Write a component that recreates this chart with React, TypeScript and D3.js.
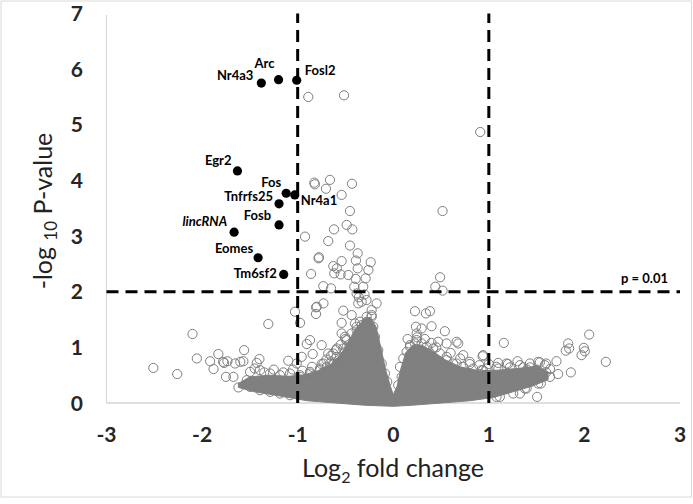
import React from "react";
import * as d3 from "d3";

// labelled genes (filled dots)
const genes = ["Nr4a3", "Arc", "Fosl2", "Egr2", "Fos", "Nr4a1", "Tnfrfs25", "Fosb", "lincRNA", "Eomes", "Tm6sf2"];
const geneLogFC = [-1.38, -1.2, -1.01, -1.63, -1.12, -1.03, -1.195, -1.195, -1.665, -1.414, -1.146];
const geneLogP = [5.75, 5.81, 5.8, 4.17, 3.77, 3.74, 3.58, 3.2, 3.07, 2.61, 2.31];

// scattered genes above the cut-off
const upperPoints = [
  [-0.889, 5.5], [-0.515, 5.53], [0.91, 4.87], [0.516, 3.45],
  [-0.826, 3.96], [-0.82, 3.93], [-0.662, 4.01], [-0.432, 3.94], [-0.704, 3.85], [-0.54, 3.74],
  [-0.453, 3.45], [-0.62, 3.12], [-0.487, 3.2], [-0.428, 3.12], [-0.923, 2.99], [-0.68, 2.91],
  [-0.453, 2.83], [-0.372, 2.69], [-0.777, 2.62], [-0.782, 2.6], [-0.54, 2.55], [-0.39, 2.56],
  [-0.236, 2.53], [-0.627, 2.46], [-0.59, 2.42], [-0.372, 2.42], [-0.26, 2.39], [-0.86, 2.32],
  [-0.617, 2.33], [-0.55, 2.31], [-0.47, 2.3], [-0.393, 2.23], [-0.289, 2.24], [-0.732, 2.1],
  [-0.651, 2.06], [-0.408, 2.09], [-0.314, 2.09], [-0.383, 1.97], [-0.36, 1.9], [-0.3, 1.95],
  [-0.28, 1.85], [-0.33, 1.82],
  [0.49, 2.26], [0.44, 2.09], [0.516, 2.02],
];

// scattered genes below the cut-off, left of zero
const leftPoints = [
  [-1.028, 1.64], [-0.808, 1.72], [-0.73, 1.79], [-0.808, 1.6], [-0.975, 1.44], [-0.523, 1.66],
  [-0.366, 1.79], [-0.174, 1.79], [-0.226, 1.67], [-0.435, 1.58], [-0.54, 1.44], [-0.54, 1.25],
  [-0.871, 1.13], [-0.905, 1.06], [-0.749, 1.04], [-0.843, 0.88], [-1.01, 0.71], [-0.73, 0.71],
  [-0.627, 0.89], [-0.59, 0.71], [-0.8, 1.73], [-0.4, 1.43], [-0.68, 0.89], [-0.59, 0.98],
  [-0.958, 0.83], [-1.098, 0.76], [-1.307, 1.42],
  [-2.51, 0.63], [-2.26, 0.52], [-2.1, 1.24], [-2.055, 0.8], [-1.916, 0.75], [-1.88, 0.61],
  [-1.83, 0.88], [-1.78, 0.74], [-1.77, 0.72], [-1.735, 0.75], [-1.75, 0.47], [-1.655, 0.71],
  [-1.6, 0.74], [-1.56, 0.95], [-1.568, 0.75], [-1.428, 0.72], [-1.4, 0.79], [-1.672, 0.47],
  [-1.62, 0.28], [-1.533, 0.41],
];

// scattered genes below the cut-off, right of zero
const rightPoints = [
  [0.227, 1.65], [0.342, 1.61], [0.384, 1.65], [0.237, 1.37], [0.297, 1.34], [0.401, 1.38],
  [0.245, 1.25], [0.54, 1.29], [0.245, 1.13], [0.175, 1.04], [0.47, 1.1], [0.558, 1.07],
  [0.663, 1.1], [0.68, 1.07], [0.384, 0.89], [0.558, 0.83], [0.732, 0.86], [0.663, 0.71],
  [0.8, 0.74], [0.94, 0.86], [0.924, 0.59],
  [1.157, 1.08], [2.05, 1.23], [1.83, 1.07], [1.84, 0.98], [1.805, 0.94], [1.994, 0.99],
  [2.004, 0.93], [1.97, 0.86], [2.224, 0.74], [1.708, 0.75], [1.858, 0.55], [1.725, 0.52],
  [1.505, 0.11], [1.534, 0.73], [1.6, 0.71], [1.64, 0.61], [1.64, 0.47], [1.544, 0.35],
  [1.185, 0.71], [1.098, 0.72], [0.935, 0.84], [1.36, 0.64], [1.43, 0.64], [1.325, 0.17],
  [1.115, 0.11], [1.377, 0.26],
];

// genes on the rim of the dense cloud
const rimPoints = [
  [-0.505, 1.19], [-0.435, 1.25], [-0.383, 1.31], [-0.33, 1.4], [-0.278, 1.46], [-0.226, 1.55],
  [-0.209, 1.37], [-0.191, 1.19], [-0.487, 1.01], [-0.523, 0.83], [-0.627, 0.71], [-0.696, 0.65],
  [-0.766, 0.59], [-0.871, 0.53], [-0.975, 0.47], [-0.157, 0.95], [-0.121, 0.71], [-0.087, 0.53],
  [-0.063, 0.38],
  [0.07, 0.65], [0.105, 0.8], [0.14, 0.92], [0.175, 1.01], [0.227, 1.07], [0.297, 1.07],
  [0.349, 1.01], [0.418, 0.98], [0.488, 0.89], [0.558, 0.77], [0.627, 0.71], [0.732, 0.65],
  [0.836, 0.62], [0.94, 0.59], [0.088, 0.47], [0.052, 0.32],
  [-1.498, 0.56], [-1.394, 0.59], [-1.289, 0.53], [-1.185, 0.5], [-1.08, 0.53], [-0.975, 0.5],
  [-0.871, 0.56], [-0.766, 0.62], [-0.662, 0.71], [-0.592, 0.83], [-0.523, 0.98], [-0.487, 1.13],
  [-0.383, 1.37], [-0.348, 1.46], [-0.278, 1.55], [-0.226, 1.58],
  [-1.498, 0.29], [-1.394, 0.23], [-1.289, 0.2], [-1.185, 0.17], [-1.08, 0.14],
  [1.08, 0.11], [1.255, 0.17], [1.395, 0.26], [1.516, 0.35],
  [0.976, 0.62], [1.08, 0.65], [1.22, 0.64], [1.325, 0.68], [1.43, 0.71], [1.516, 0.74], [1.586, 0.68],
  [-1.45, 0.62], [-1.35, 0.55], [-1.25, 0.6], [-1.15, 0.55], [-1.05, 0.6], [-0.95, 0.58],
  [-0.85, 0.65], [-0.75, 0.7], [-0.7, 0.78], [-0.65, 0.85], [-0.6, 0.95], [-0.55, 1.05], [-0.5, 1.15],
  [0.6, 0.9], [0.7, 0.8], [0.8, 0.7], [0.9, 0.68], [1.0, 0.7], [1.1, 0.62], [1.2, 0.7],
  [1.3, 0.75], [1.4, 0.6], [1.5, 0.6], [1.6, 0.55],
  [0.15, 1.15], [0.25, 1.18], [0.33, 1.15], [0.4, 1.08], [0.45, 1.0],
];

// outline of the solid, overplotted cloud (upper edge left→right, then lower edge right→left)
const cloudUpper = [
  [-1.62, 0.35], [-1.5, 0.47], [-1.3, 0.5], [-1.1, 0.48], [-0.95, 0.5], [-0.8, 0.57],
  [-0.65, 0.7], [-0.55, 0.87], [-0.48, 1.07], [-0.4, 1.32], [-0.3, 1.52], [-0.24, 1.54],
  [-0.18, 1.37], [-0.13, 1.0], [-0.08, 0.6], [-0.03, 0.3], [0, 0.15], [0.04, 0.3], [0.08, 0.62],
  [0.13, 0.9], [0.2, 1.04], [0.3, 1.04], [0.42, 0.92], [0.55, 0.77], [0.7, 0.65], [0.9, 0.58],
  [1.1, 0.59], [1.3, 0.62], [1.5, 0.66], [1.62, 0.56],
];
const cloudLower = [
  [1.62, 0.42], [1.45, 0.3], [1.25, 0.2], [1.05, 0.1], [0.8, 0.04], [0.5, 0.0], [0.2, -0.04],
  [0, -0.06], [-0.3, -0.04], [-0.6, 0.0], [-0.9, 0.04], [-1.2, 0.13], [-1.45, 0.2], [-1.62, 0.28],
];

const xTicks = [-3, -2, -1, 0, 1, 2, 3];
const yTicks = [0, 1, 2, 3, 4, 5, 6, 7];
const fcCut = [-1, 1];
const pCut = 2;

const labelPos: Record<string, [number, number, string]> = {
  Nr4a3: [-8, -3, "end"],
  Arc: [-4, -12, "end"],
  Fosl2: [8, -5, "start"],
  Egr2: [-6, -6, "end"],
  Fos: [-5, -6, "end"],
  Nr4a1: [6, 10, "start"],
  Tnfrfs25: [-6, -3, "end"],
  Fosb: [-8, -5, "end"],
  lincRNA: [-7, -6, "end"],
  Eomes: [-5, -5, "end"],
  Tm6sf2: [-7, 4, "end"],
};

const W = 693;
const H = 504;
const font = "Lato, 'Open Sans', sans-serif";
const grey = "#7f7f7f";

export default function App() {
  const x = d3.scaleLinear().domain([-3, 3]).range([106.5, 680]);
  const y = d3.scaleLinear().domain([0, 7]).range([403, 13.5]);

  const cloud = d3
    .line<number[]>()
    .x(d => x(d[0]))
    .y(d => y(d[1]))
    .curve(d3.curveLinearClosed)([...cloudUpper, ...cloudLower]);

  const open = [...leftPoints, ...rightPoints, ...rimPoints, ...upperPoints];

  return (
    <svg width={W} height={H} style={{ position: "absolute", left: 0, top: 0 }} fontFamily={font}>
      <rect x={1} y={1} width={690.5} height={496} fill="#fff" stroke="#d9d9d9" />

      {/* axes */}
      <line x1={x(-3)} x2={x(-3)} y1={y(0)} y2={15} stroke="#d9d9d9" strokeWidth={1.2} />
      <line x1={x(-3)} x2={x(3)} y1={y(0)} y2={y(0)} stroke="#bfbfbf" strokeWidth={1.2} />

      {/* points */}
      <path d={cloud || ""} fill="#808080" stroke="#808080" strokeWidth={1} />
      {open.map((d, i) => (
        <circle key={i} cx={x(d[0])} cy={y(d[1])} r={4.6} fill="none" stroke={grey} strokeWidth={1} />
      ))}

      {/* thresholds */}
      {fcCut.map(v => (
        <line key={v} x1={x(v)} x2={x(v)} y1={y(0)} y2={y(7)} stroke="#000" strokeWidth={3} strokeDasharray="12,7" />
      ))}
      <line x1={x(-3)} x2={x(3)} y1={y(pCut)} y2={y(pCut)} stroke="#000" strokeWidth={3} strokeDasharray="12,7" />
      <text x={x(3) - 12} y={y(pCut) - 9} textAnchor="end" fontSize={13} fontWeight="bold" fill="#000">
        p = 0.01
      </text>

      {genes.map((g, i) => {
        const [dx, dy, anchor] = labelPos[g];
        const cx = x(geneLogFC[i]);
        const cy = y(geneLogP[i]);
        return (
          <g key={g}>
            <circle cx={cx} cy={cy} r={4.6} fill="#000" />
            <text
              x={cx + dx}
              y={cy + dy}
              textAnchor={anchor}
              fontSize={13}
              fontWeight="bold"
              fontStyle={g === "lincRNA" ? "italic" : "normal"}
              fill="#000"
            >
              {g}
            </text>
          </g>
        );
      })}

      {/* tick labels */}
      {yTicks.map(t => (
        <text key={t} x={83} y={y(t)} dy="0.36em" textAnchor="end" fontSize={21} fontWeight="bold" fill="#262626">
          {t}
        </text>
      ))}
      {xTicks.map(t => (
        <text key={t} x={x(t)} y={442} textAnchor="middle" fontSize={21} fontWeight="bold" fill="#262626">
          {t}
        </text>
      ))}

      {/* axis titles */}
      <text x={393} y={477} textAnchor="middle" fontSize={25} fill="#222">
        Log<tspan fontSize={16} dy={6}>2</tspan>
        <tspan dy={-6}> fold change</tspan>
      </text>
      <text transform="translate(52,211) rotate(-90)" textAnchor="middle" fontSize={25} fill="#222">
        -log <tspan fontSize={17} dy={5}>10</tspan>
        <tspan dy={-5}> P-value</tspan>
      </text>
    </svg>
  );
}
